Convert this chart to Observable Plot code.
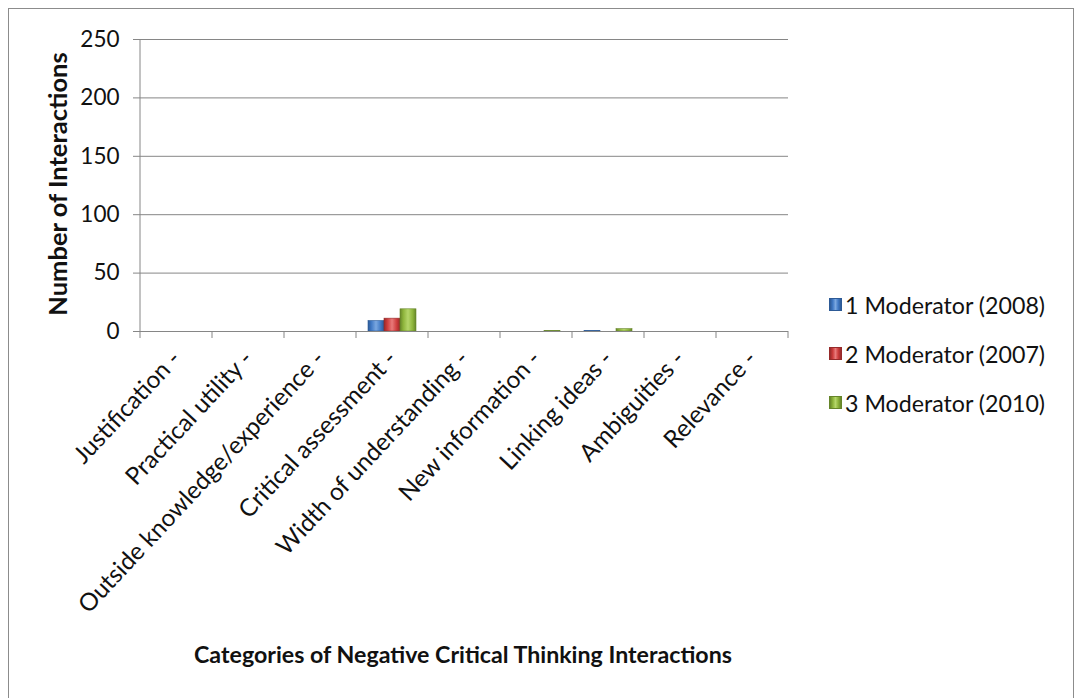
<!DOCTYPE html>
<html><head><meta charset="utf-8">
<script src="https://cdn.jsdelivr.net/npm/d3@7"></script>
<script src="https://cdn.jsdelivr.net/npm/@observablehq/plot@0.6"></script>
<style>
body{margin:0;background:#fff;font-family:Lato, "Open Sans", sans-serif;}
#wrap{position:relative;width:1075px;height:698px;overflow:hidden;}
#border{position:absolute;left:8px;top:8px;width:1066px;height:720px;border:1.5px solid #8c8c8c;box-sizing:border-box;}
#chart{position:absolute;left:0;top:0;}
#legend{position:absolute;left:829px;top:280px;}
.item{display:flex;align-items:center;height:49px;font-size:23.2px;color:#111;}
.sw{width:13px;height:13px;margin-right:3px;box-sizing:border-box;}
#xtitle{position:absolute;left:0;width:926px;top:640px;text-align:center;font-weight:bold;font-size:23.2px;color:#111;}
#ytitle{position:absolute;left:57px;top:184px;transform:translate(-50%,-50%) rotate(-90deg);white-space:nowrap;font-weight:bold;font-size:25.5px;color:#111;}
</style></head><body>
<div id="wrap"><div id="border"></div><div id="chart"></div><div id="legend"></div>
<div id="xtitle">Categories of Negative Critical Thinking Interactions</div>
<div id="ytitle">Number of Interactions</div></div>
<script>
const categories = ["Justification -","Practical utility -","Outside knowledge/experience -","Critical assessment -","Width of understanding -","New information -","Linking ideas -","Ambiguities -","Relevance -"];
const series = ["1 Moderator (2008)","2 Moderator (2007)","3 Moderator (2010)"];
const mod1 = [0,0,0,9,0,0,0.4,0,0];
const mod2 = [0,0,0,11,0,0,0,0,0];
const mod3 = [0,0,0,19,0,0.4,2,0,0];
const colors = ["#3f78c4","#cc3b3b","#8cb33a"];
const lights = ["#7aa7e0","#e87a7a","#b5d66a"];
const strokes = ["#2d5a96","#962a2a","#66852a"];
const yTicks = [0,50,100,150,200,250];

const values = [mod1, mod2, mod3];
const data = categories.flatMap((c,i)=>series.map((s,j)=>({category:c, series:s, value:values[j][i]})));

const plot = Plot.plot({
  width:1075, height:698,
  marginLeft:139, marginRight:286, marginTop:39, marginBottom:367,
  style:{fontFamily:"Lato, 'Open Sans', sans-serif", fontSize:"22px", background:"transparent", overflow:"visible", color:"#111"},
  fx:{domain:categories, padding:0, label:null},
  x:{domain:series, paddingInner:0, paddingOuter:0.66, axis:null},
  y:{domain:[0,250], label:null},
  color:{domain:series, range:colors},
  marks:[
    Plot.gridY(yTicks,{stroke:"#868686", strokeOpacity:1}),
    Plot.axisY(yTicks,{tickSize:7, tickPadding:14, stroke:"#868686", fontSize:22.5, label:null}),
    Plot.barY(data,{fx:"category", x:"series", y:"value", fill:"series", stroke:d=>strokes[series.indexOf(d.series)], strokeWidth:0.6}),
    Plot.ruleY([0],{stroke:"#868686"}),
    Plot.axisFx({anchor:"bottom", tickSize:0, tickPadding:23, tickRotate:-47, fontSize:24.3, label:null})
  ]
});
document.getElementById("chart").appendChild(plot);

const svg = d3.select(plot);
const defs = svg.insert("defs", ":first-child");
colors.forEach((c,i)=>{
  const g = defs.append("linearGradient").attr("id","bar"+i).attr("x1","0").attr("x2","1").attr("y1","0").attr("y2","0");
  g.append("stop").attr("offset","0").attr("stop-color",strokes[i]);
  g.append("stop").attr("offset","0.2").attr("stop-color",colors[i]);
  g.append("stop").attr("offset","0.5").attr("stop-color",lights[i]);
  g.append("stop").attr("offset","0.8").attr("stop-color",colors[i]);
  g.append("stop").attr("offset","1").attr("stop-color",strokes[i]);
});
svg.selectAll("rect").each(function(){
  const i = colors.indexOf(this.getAttribute("fill"));
  if (i >= 0) this.setAttribute("fill","url(#bar"+i+")");
});

const fx = plot.scale("fx");
const y = plot.scale("y");
const xs = categories.map(c=>fx.apply(c));
xs.push(xs[xs.length-1]+fx.bandwidth);
svg.append("g").selectAll("line").data(xs).join("line")
  .attr("x1",d=>d).attr("x2",d=>d).attr("y1",y.apply(0)).attr("y2",y.apply(0)+7)
  .attr("stroke","#868686");
svg.append("line").attr("x1",xs[0]).attr("x2",xs[0]).attr("y1",y.apply(250)).attr("y2",y.apply(0)).attr("stroke","#868686");

const legend = d3.select("#legend");
series.forEach((s,i)=>{
  const it = legend.append("div").attr("class","item");
  it.append("div").attr("class","sw").style("background","linear-gradient(to right,"+strokes[i]+","+colors[i]+" 25%,"+lights[i]+" 50%,"+colors[i]+" 75%,"+strokes[i]+")").style("border","1px solid "+strokes[i]);
  it.append("span").text(s);
});
</script></body></html>
